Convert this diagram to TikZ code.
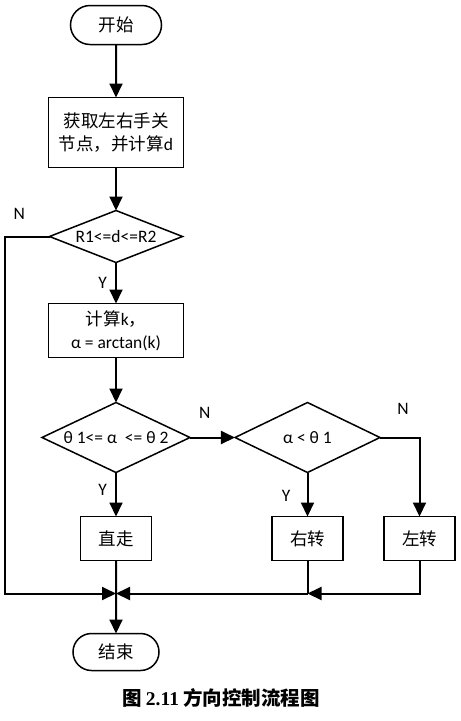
\documentclass[tikz,border=0pt]{standalone}
\usepackage{fontspec}
\setmainfont{Carlito}
\newfontfamily\cjkfont{Noto Sans CJK SC}
\newfontfamily\capserif{Liberation Serif}
\newcommand{\zh}[1]{{\cjkfont #1}}
\usetikzlibrary{positioning,arrows.meta,shapes.geometric,shapes.misc,calc}

\begin{document}
\begin{tikzpicture}[
  x=1pt,y=1pt,
  font=\fontsize{17.5}{23}\selectfont,
  term/.style={rounded rectangle,draw,line width=1.5pt,minimum width=95pt,
               minimum height=39pt,inner sep=2pt,outer sep=0pt},
  box/.style={rectangle,draw,line width=1.5pt,minimum width=135pt,
              align=center,inner sep=3pt,outer sep=0pt},
  act/.style={box,minimum width=71pt,minimum height=44pt},
  dec/.style={diamond,draw,line width=1.5pt,inner sep=0pt,outer sep=0pt},
  lbl/.style={inner sep=2pt},
  arr/.style={-{Triangle[length=14pt,width=13pt]},line width=2pt},
  line/.style={line width=2pt},
]
\useasboundingbox (0,0) rectangle (461,-721);
\node[term] (start) at (116,-25) {\zh{开始}};
\node[box,below=53pt of start,minimum height=70pt] (joint)
   {\zh{获取左右手关}\\\zh{节点，并计算}d};
\node[dec,below=43pt of joint,aspect=2.56,minimum width=133pt,minimum height=52pt] (dist)
   {R1<=d<=R2};
\node[box,below=41pt of dist,minimum height=54pt] (angle)
   {\zh{计算}k\zh{，}\\α = arctan(k)};
\node[dec,below=45pt of angle,aspect=2.11,minimum width=148pt,minimum height=70pt] (range)
   {θ 1<= α\ \ <= θ 2};
\node[dec,right=45pt of range,aspect=2.07,minimum width=145pt,minimum height=70pt] (side)
   {α < θ 1};
\node[act,below=44pt of range] (straight) {\zh{直走}};
\node[act,below=44pt of side] (rturn) {\zh{右转}};
\node[act,right=41pt of rturn] (lturn) {\zh{左转}};
\node[term,below=73pt of straight,minimum width=90pt,minimum height=37pt] (stop) {\zh{结束}};
\coordinate[below=33pt of straight] (merge);
\coordinate (rmerge) at (rturn.south |- merge);

\draw[arr] (start) -- (joint);
\draw[arr] (joint) -- (dist);
\draw[arr] (dist) -- node[lbl,left=6pt] {Y} (angle);
\draw[arr] (angle) -- (range);
\draw[arr] (range) -- node[lbl,pos=.4,left=6pt] {Y} (straight);
\draw[arr] (range) -- node[lbl,pos=.33,above=16pt] {N} (side);
\draw[arr] (side) -- node[lbl,pos=.52,left=14pt] {Y} (rturn);
\draw[arr] (side.east) -| node[lbl,pos=.29,above=20pt] {N} (lturn.north);
% out of range: straight to the end
\draw[arr] (dist.west) -- node[lbl,pos=.67,above=14pt] {N} ++(-45,0) |- (merge);
% turns join the main line
\draw[line] (rturn) -- (rmerge);
\draw[arr] (lturn.south) |- (rmerge);
\draw[arr] (rmerge) -- (merge);
\draw[arr] (straight) -- (stop);

\node[font=\fontsize{19.5}{23}\selectfont\bfseries] (cap) at ($(stop.south)+(105,-27)$)
   {\zh{图} {\capserif 2.11} \zh{方向控制流程图}};
\end{tikzpicture}
\end{document}
